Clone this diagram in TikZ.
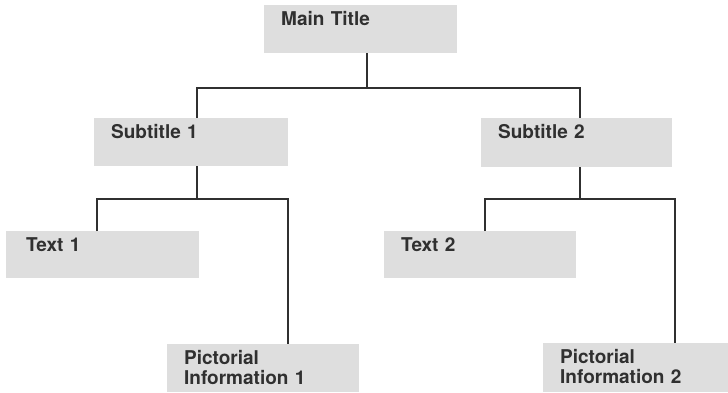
\documentclass[tikz,border=0pt]{standalone}
\usepackage{fontspec}
\setmainfont{TeX Gyre Heros}
\definecolor{boxfill}{RGB}{222,222,222}
\definecolor{ink}{RGB}{48,48,48}
\begin{document}
\begin{tikzpicture}[x=1pt,y=-1pt,
  box/.style n args={3}{rectangle, fill=boxfill, anchor=north west,
    inner ysep=0pt, inner xsep=17pt, align=left,
    text width=#1pt, text height=20.5pt, text depth=#2pt,
    font=\fontsize{19}{19.5}\selectfont\bfseries, text=ink},
  conn/.style={draw=ink, line width=1.8pt}]
\useasboundingbox (0,0) rectangle (728,393);
% boxes: text width = W-34, text depth = H-20.5
\node[box={159}{27.5}{}] (main) at (264,5) {Main Title};
\node[box={160}{27.5}{}] (sub1) at (94,118) {Subtitle 1};
\node[box={157}{28.5}{}] (sub2) at (481,118) {Subtitle 2};
\node[box={159}{26.5}{}, inner xsep=18pt, text width=157pt] (text1) at (6,231) {\hspace*{2pt}Text 1};
\node[box={158}{26.5}{}] (text2) at (384,231) {Text 2};
\node[box={158}{27.5}{}] (pic1) at (167,344) {Pictorial\\Information 1};
\node[box={151}{28.5}{}] (pic2) at (543,343) {Pictorial\\Information 2};
% junction coordinates
\coordinate (b0) at (367,88);
\coordinate (xs1) at (197,0);
\coordinate (xs2) at (580,0);
\coordinate (b1) at (197,199);
\coordinate (b2) at (580,199);
\coordinate (xt1) at (97,0);
\coordinate (xp1) at (288,0);
\coordinate (xt2) at (485,0);
\coordinate (xp2) at (675,0);
% connectors
\draw[conn] (main.south -| b0) -- (b0);
\draw[conn] (sub1.north -| xs1) |- (b0) -| (sub2.north -| xs2);
\draw[conn] (sub1.south -| xs1) -- (b1);
\draw[conn] (text1.north -| xt1) |- (b1) -| (pic1.north -| xp1);
\draw[conn] (sub2.south -| xs2) -- (b2);
\draw[conn] (text2.north -| xt2) |- (b2) -| (pic2.north -| xp2);
\end{tikzpicture}
\end{document}
